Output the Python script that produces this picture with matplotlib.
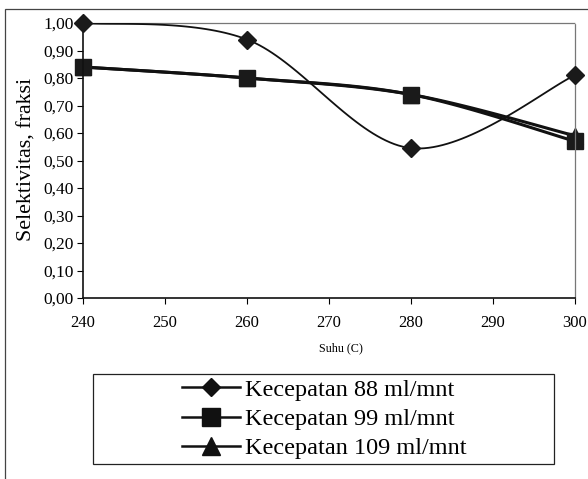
import numpy as np
import matplotlib
matplotlib.use("Agg")
import matplotlib.pyplot as plt
from matplotlib.patches import Rectangle

suhu = [240, 260, 280, 300]
kec_88 = [1.00, 0.94, 0.545, 0.81]
kec_99 = [0.84, 0.80, 0.74, 0.57]
kec_109 = [0.84, 0.80, 0.74, 0.59]
labels = ["Kecepatan 88 ml/mnt", "Kecepatan 99 ml/mnt", "Kecepatan 109 ml/mnt"]
x_ticks = [240, 250, 260, 270, 280, 290, 300]
y_ticks = [0.0, 0.1, 0.2, 0.3, 0.4, 0.5, 0.6, 0.7, 0.8, 0.9, 1.0]


def smooth(xs, ys, n=40):
    # Excel-like smoothed line (Catmull-Rom via cubic Bezier)
    p = np.column_stack([xs, ys]).astype(float)
    p = np.vstack([p[0], p, p[-1]])
    out = []
    t = np.linspace(0, 1, n)[:, None]
    for i in range(1, len(p) - 2):
        p0, p1, p2, p3 = p[i - 1], p[i], p[i + 1], p[i + 2]
        c1 = p1 + (p2 - p0) / 6
        c2 = p2 - (p3 - p1) / 6
        seg = ((1 - t) ** 3) * p1 + 3 * ((1 - t) ** 2) * t * c1 + 3 * (1 - t) * t ** 2 * c2 + t ** 3 * p2
        out.append(seg if i == 1 else seg[1:])
    out = np.vstack(out)
    return out[:, 0], out[:, 1]


plt.rcParams["font.family"] = ["Liberation Serif", "DejaVu Serif"]

W, H = 588, 479
fig = plt.figure(figsize=(W / 100, H / 100), dpi=100)
ax = fig.add_axes([83 / W, 1 - 298 / H, 492 / W, 275 / H])

# outer chart frame (scanned page edge)
fig.patches.append(Rectangle((5 / W, -0.01), 1.2, 1 - 9 / H + 0.01, transform=fig.transFigure,
                             fill=False, edgecolor="#444444", linewidth=0.9))
# legend box
fig.patches.append(Rectangle((93 / W, 1 - 464 / H), 461 / W, 90 / H, transform=fig.transFigure,
                             fill=False, edgecolor="#222222", linewidth=0.9))

series = [
    (kec_109, "^", 2.2, 1, 11),
    (kec_99, "s", 2.2, 2, 11.5),
    (kec_88, "D", 1.3, 3, 9),
]
handles = {}
for ys, mk, lw, z, ms in series:
    sx, sy = smooth(suhu, ys)
    ax.plot(sx, sy, color="#111111", linewidth=lw, zorder=z)
    ax.plot(suhu, ys, linestyle="none", marker=mk, markersize=ms,
            color="#1a1a1a", zorder=z + 0.5, clip_on=False)
    handles[mk] = ax.plot([], [], color="#111111", linewidth=1.8, marker=mk,
                          markersize={"D": 9, "s": 12.5, "^": 13}[mk])[0]

ax.set_xlim(240, 300)
ax.set_ylim(0, 1.0)
ax.set_xticks(x_ticks)
ax.set_xticklabels([str(v) for v in x_ticks], fontsize=12)
ax.set_yticks(y_ticks)
ax.set_yticklabels([f"{v:.2f}".replace(".", ",") for v in y_ticks], fontsize=12.5)
ax.tick_params(direction="out", length=4.3, width=0.8)
ax.tick_params(axis="x", pad=8)
ax.tick_params(axis="y", pad=2.5)

for side in ["top", "right"]:
    ax.spines[side].set_linestyle((0, (1, 1)))
    ax.spines[side].set_color("#777777")
    ax.spines[side].set_linewidth(0.9)
for side in ["left", "bottom"]:
    ax.spines[side].set_color("#111111")
    ax.spines[side].set_linewidth(1.2)

ax.set_ylabel("Selektivitas, fraksi", fontsize=15.8)
ax.yaxis.set_label_coords(-0.095, 0.505)
ax.set_xlabel("Suhu (C)", fontsize=8.7)
ax.xaxis.set_label_coords(0.524, -0.16)

leg = fig.legend([handles["D"], handles["s"], handles["^"]], labels,
                 loc="center", bbox_to_anchor=(324 / W, 1 - 419 / H), fontsize=17.5,
                 frameon=False, handlelength=2.4, handletextpad=0.2,
                 labelspacing=0.3, borderpad=0, borderaxespad=0)

fig.savefig("out.png", dpi=100)
